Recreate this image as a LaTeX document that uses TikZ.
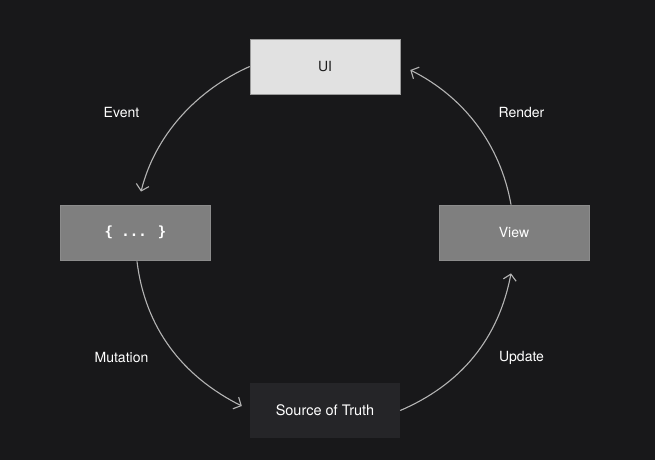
\documentclass[tikz,border=0pt]{standalone}
\usepackage{fontspec}
\setmainfont{TeX Gyre Heros}
\newfontfamily\codefont{DejaVu Sans Mono}
\usetikzlibrary{arrows.meta,calc}
\definecolor{bgc}{HTML}{18181A}
\definecolor{uifill}{HTML}{E1E1E1}
\definecolor{uiline}{HTML}{9A9A9A}
\definecolor{grayfill}{HTML}{7F7F7F}
\definecolor{grayline}{HTML}{8C8C8C}
\definecolor{srcfill}{HTML}{252528}
\definecolor{arrowc}{HTML}{B4B4B4}
\definecolor{uitext}{HTML}{1C1C1C}
\begin{document}
\begin{tikzpicture}[x=1pt,y=1pt,
  box/.style={minimum width=150pt,minimum height=55pt,inner sep=0pt,
    font=\fontsize{14}{16}\selectfont},
  uibox/.style={box,fill=uifill,draw=uiline,line width=0.6pt,text=uitext},
  graybox/.style={box,fill=grayfill,draw=grayline,line width=0.8pt,text=white},
  srcbox/.style={box,fill=srcfill,text=white},
  conn/.style={draw=arrowc,line width=1.1pt,-{Straight Barb[length=6pt,width=13pt,line width=1.1pt]}},
  lbl/.style={text=white,font=\fontsize{14}{16}\selectfont}
]
\fill[bgc] (0,0) rectangle (655,460);
\useasboundingbox (0,0) rectangle (655,460);

\node[uibox] (ui) at (325,393.5) {UI};
\node[graybox] (code) at (135.5,227.5) {\codefont\bfseries\{ ... \}};
\node[graybox] (view) at (514,227.5) {View};
\node[srcbox] (src) at (325,49.5) {\fontsize{14.5}{16}\selectfont Source of Truth};

\node[lbl] (lev) at (121.5,347.5) {Event};
\node[lbl] (lre) at (521.5,347.5) {Render};
\node[lbl] (lmu) at (121.5,102.5) {Mutation};
\node[lbl] (lup) at (521.5,102.5) {Update};

\draw[conn] (ui.west) to[out=204,in=76,looseness=0.9] ($(code.north)+(5.5,13)$);
\draw[conn] ($(code.south)+(1.5,-1)$) to[out=277,in=153.4,looseness=0.96] ($(src.west)+(-8,4.5)$);
\draw[conn] (src.east) to[out=23.2,in=259.3,looseness=0.96] ($(view.south)+(-3,-13)$);
\draw[conn] ($(view.north)+(-3,0)$) to[out=100.1,in=333.4,looseness=0.92] ($(ui.east)+(10,-3.5)$);
\end{tikzpicture}
\end{document}
